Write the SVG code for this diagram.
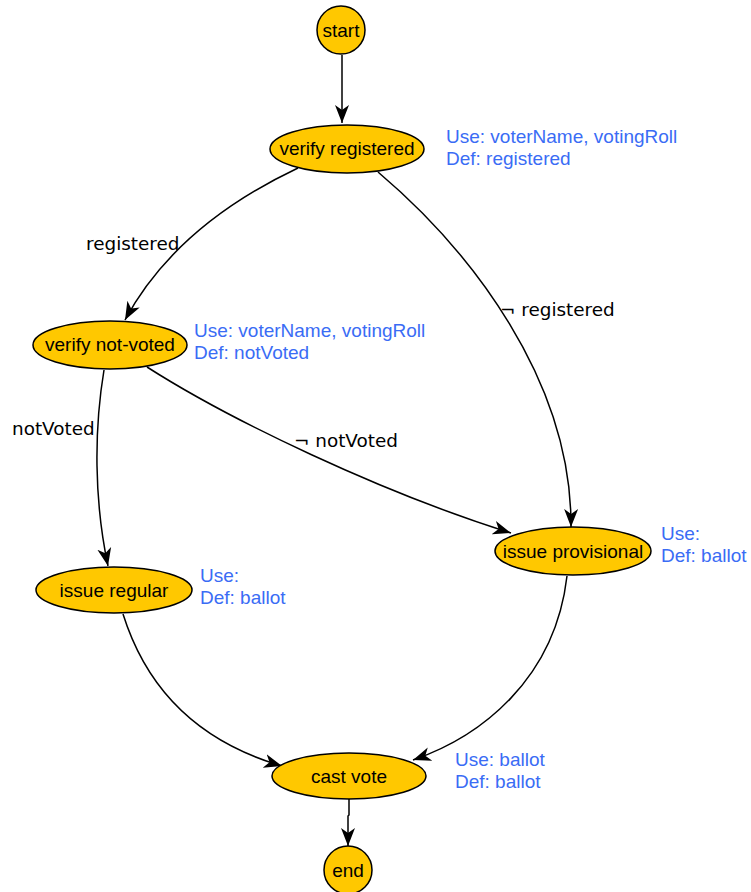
<svg xmlns="http://www.w3.org/2000/svg" width="751" height="892" viewBox="0 0 751 892">
<style>
.node{fill:#ffc800;stroke:#000;stroke-width:1.5}
.nl{font-family:"Liberation Sans",Arial,sans-serif;font-size:19px;fill:#000;text-anchor:middle}
.ann{font-family:"Liberation Sans",Arial,sans-serif;font-size:19px;fill:#3a6cf5}
.el{font-family:"DejaVu Sans",sans-serif;font-size:18.4px;fill:#000}
.edge{fill:none;stroke:#000;stroke-width:1.5}
</style>
<defs>
<marker id="arr" markerUnits="userSpaceOnUse" markerWidth="20" markerHeight="16" viewBox="0 0 20 16" refX="18" refY="8" orient="auto">
<path d="M0,1 L18,8 L0,15 L5,8 z" fill="#000"/>
</marker>
</defs>
<rect width="751" height="892" fill="#fff"/>
<g id="connectors">
<path class="edge" d="M342,55 L342,123" marker-end="url(#arr)"/>
<path class="edge" d="M298,168 C220,205 160,255 125,320" marker-end="url(#arr)"/>
<path class="edge" d="M378,172 C470,250 572,380 571,527" marker-end="url(#arr)"/>
<path class="edge" d="M104,370 C94,430 94,500 108,566" marker-end="url(#arr)"/>
<path class="edge" d="M147,367 C230,420 380,492 511,533" marker-end="url(#arr)"/>
<path class="edge" d="M123,614 C150,700 210,745 282,766" marker-end="url(#arr)"/>
<path class="edge" d="M567,576 C555,680 480,737 413,760" marker-end="url(#arr)"/>
<path class="edge" d="M349,799 L349,815 L348,816 L348,846" marker-end="url(#arr)"/>
<text class="el" x="86" y="250">registered</text>
<text class="el" x="500" y="316">¬ registered</text>
<text class="el" x="12" y="435">notVoted</text>
<text class="el" x="294" y="447">¬ notVoted</text>
</g>
<g id="start">
<circle class="node" cx="341" cy="30" r="24"/>
<text class="nl" x="341" y="37">start</text>
</g>
<g id="verify_registered">
<ellipse class="node" cx="347" cy="149" rx="77" ry="24"/>
<text class="nl" x="347" y="155">verify registered</text>
<text class="ann" x="446" y="143">Use: voterName, votingRoll</text>
<text class="ann" x="446" y="165">Def: registered</text>
</g>
<g id="verify_not_voted">
<ellipse class="node" cx="110" cy="345" rx="77" ry="24"/>
<text class="nl" x="110" y="351">verify not-voted</text>
<text class="ann" x="194" y="337">Use: voterName, votingRoll</text>
<text class="ann" x="194" y="359">Def: notVoted</text>
</g>
<g id="issue_regular">
<ellipse class="node" cx="114" cy="590" rx="78" ry="23"/>
<text class="nl" x="114" y="597">issue regular</text>
<text class="ann" x="200" y="582">Use:</text>
<text class="ann" x="200" y="604">Def: ballot</text>
</g>
<g id="issue_provisional">
<ellipse class="node" cx="573" cy="551" rx="78" ry="24"/>
<text class="nl" x="573" y="558">issue provisional</text>
<text class="ann" x="661" y="540">Use:</text>
<text class="ann" x="661" y="562">Def: ballot</text>
</g>
<g id="cast_vote">
<ellipse class="node" cx="349" cy="776" rx="77" ry="23"/>
<text class="nl" x="349" y="783">cast vote</text>
<text class="ann" x="455" y="766">Use: ballot</text>
<text class="ann" x="455" y="788">Def: ballot</text>
</g>
<g id="end">
<circle class="node" cx="348" cy="870" r="24"/>
<text class="nl" x="348" y="877">end</text>
</g>
</svg>
